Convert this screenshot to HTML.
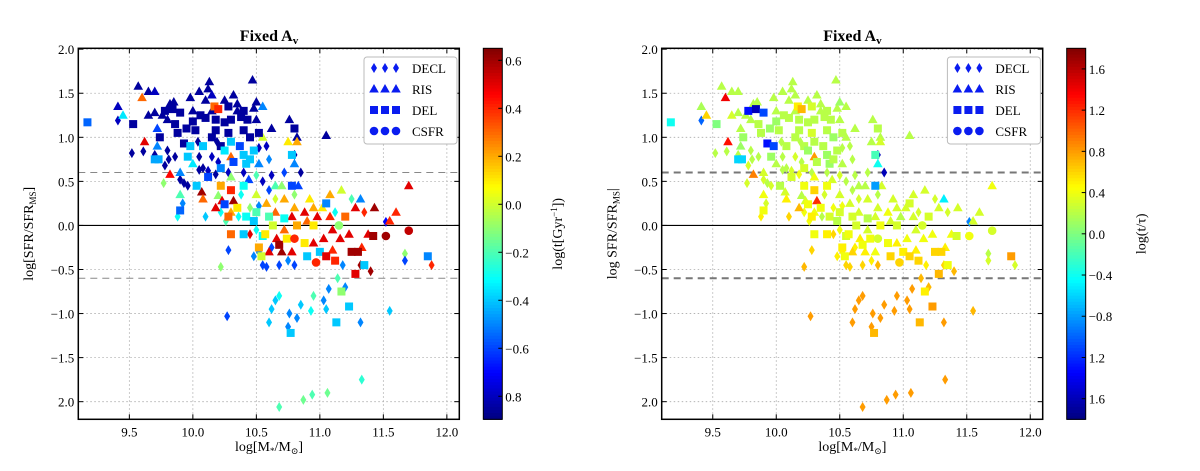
<!DOCTYPE html>
<html><head><meta charset="utf-8"><style>
body{margin:0;background:#fff;width:1200px;height:466px;overflow:hidden}
svg text{font-family:"Liberation Serif","DejaVu Serif",serif;fill:#000}
</style></head><body>
<svg id="fig" width="1200" height="466" viewBox="0 0 1200 466" xmlns="http://www.w3.org/2000/svg"></svg>
<script>
const xTicks=[9.5,10.0,10.5,11.0,11.5,12.0];
const xTickLabels=["9.5","10.0","10.5","11.0","11.5","12.0"];
const yTicks=[2.0,1.5,1.0,0.5,0.0,-0.5,-1.0,-1.5,-2.0];
const yTickLabels=["2.0","1.5","1.0","0.5","0.0","\u22120.5","\u22121.0","\u22121.5","2.0"];
const cb1Ticks=[0.6,0.4,0.2,0.0,-0.2,-0.4,-0.6,-0.8];
const cb1Labels=["0.6","0.4","0.2","0.0","\u22120.2","\u22120.4","\u22120.6","0.8"];
const cb2Ticks=[1.6,1.2,0.8,0.4,0.0,-0.4,-0.8,-1.2,-1.6];
const cb2Labels=["1.6","1.2","0.8","0.4","0.0","\u22120.4","\u22120.8","1.2","1.6"];
const legendLabels=["DECL","RIS","DEL","CSFR"];
const legendMarkers=["d","t","s","o"];
// each row: [log M*, log SFR/SFR_MS, log t (left colour), log t/tau (right colour)]
const declPoints=[[9.41,1.19,-0.8,-1.0],[9.52,0.82,-0.85,0.2],[9.61,0.84,-0.85,0.2],[9.77,0.48,-0.1,0.3],[9.8,0.85,-0.85,0.2],[9.81,0.75,-0.85,0.2],[9.78,0.68,-0.85,0.3],[9.86,0.78,-0.85,0.2],[9.9,0.52,-0.85,0.3],[9.93,0.48,-0.85,0.2],[9.96,0.45,-0.85,0.3],[9.92,0.25,-0.5,0.3],[9.88,0.1,-0.3,0.5],[10.04,0.95,-0.85,0.2],[10.05,0.63,-0.85,0.2],[10.08,0.65,-0.85,0.2],[10.12,0.62,-0.8,0.3],[10.1,0.1,-0.4,0.6],[10.19,0.95,-0.85,0.2],[10.15,0.78,-0.8,0.3],[10.2,0.72,-0.8,0.2],[10.18,0.58,-0.85,0.4],[10.22,0.15,-0.3,0.4],[10.26,0.05,-0.2,0.4],[10.28,0.6,-0.8,0.2],[10.36,0.1,-0.3,0.2],[10.28,-0.28,-0.6,0.6],[10.27,-1.03,-0.6,0.8],[10.22,-0.47,-0.1,0.7],[10.4,0.6,-0.8,0.2],[10.38,0.35,-0.3,0.3],[10.45,0.2,-0.1,0.4],[10.45,-0.1,0.5,0.6],[10.52,0.88,-0.8,0.2],[10.5,0.57,-0.2,0.3],[10.55,0.5,-0.8,0.2],[10.52,0.22,-0.5,0.4],[10.5,-0.05,-0.3,0.4],[10.52,-0.3,-0.5,0.5],[10.48,-0.35,-0.5,0.5],[10.55,-0.45,-0.6,0.6],[10.58,-0.47,-0.6,0.6],[10.6,0.4,-0.6,0.2],[10.62,0.57,-0.8,0.2],[10.58,0.9,-0.8,0.2],[10.6,0.75,-0.5,0.2],[10.65,0.3,0.0,0.3],[10.68,-0.45,-0.6,0.6],[10.65,-0.85,-0.4,0.8],[10.68,-0.8,-0.3,0.8],[10.62,-0.95,-0.4,0.8],[10.6,-1.1,-0.4,0.8],[10.72,0.6,-0.6,0.2],[10.75,-0.4,-0.5,0.5],[10.8,0.8,-0.85,-1.6],[10.85,0.6,-0.85,-1.6],[10.8,0.35,-0.1,0.2],[10.8,-0.45,-0.6,0.7],[10.76,-1.0,-0.5,0.8],[10.75,-1.15,-0.5,0.8],[10.82,-1.05,-0.5,0.8],[10.85,-0.9,-0.4,0.8],[10.95,-0.8,-0.2,0.8],[10.93,-0.97,-0.3,0.8],[11.03,-0.85,-0.5,0.8],[11.05,-0.95,-0.4,0.8],[11.07,-0.72,-0.5,0.8],[11.14,-0.6,-0.2,0.7],[11.12,0.15,-0.3,0.3],[11.18,-0.45,-0.5,0.5],[11.2,-0.7,-0.5,0.7],[11.25,0.3,-0.2,0.3],[11.32,-0.45,0.6,0.6],[11.32,-1.1,-0.5,0.8],[11.33,-1.75,-0.25,0.8],[11.35,0.15,0.4,0.3],[11.4,-0.52,0.6,0.7],[11.52,0.04,-0.7,-0.9],[11.55,-0.97,-0.4,0.7],[11.67,-0.32,-0.1,0.2],[11.67,-0.4,-0.6,0.3],[11.88,-0.45,0.4,0.3],[10.05,0.78,-0.85,0.2],[10.62,-0.25,-0.6,0.5],[9.7,0.8,-0.85,0.2],[10.68,-2.06,-0.2,0.8],[10.87,-1.98,-0.15,0.8],[10.94,-1.92,-0.2,0.8],[11.06,-1.9,-0.15,0.8]];
const risPoints=[[9.41,1.35,-0.8,0.15],[9.45,1.25,-0.35,0.6],[9.57,1.58,-0.85,0.2],[9.6,1.45,0.3,1.4],[9.65,1.52,-0.85,0.2],[9.7,1.52,-0.8,0.2],[9.62,0.95,0.5,1.3],[9.65,1.25,-0.85,0.3],[9.7,1.28,-0.85,0.2],[9.72,1.1,-0.6,0.2],[9.72,0.9,-0.5,0.1],[9.76,1.25,-0.85,0.2],[9.8,1.2,-0.85,0.2],[9.82,1.38,-0.85,0.2],[9.85,1.4,-0.85,0.2],[9.82,0.58,0.45,0.9],[9.9,0.6,-0.5,0.3],[9.9,0.35,-0.2,0.4],[9.98,1.45,-0.85,0.2],[10.0,1.3,-0.85,0.2],[10.0,0.7,-0.35,0.2],[10.07,0.38,0.6,0.3],[10.08,0.3,0.3,0.5],[10.05,1.52,-0.85,0.2],[10.1,1.42,-0.85,0.2],[10.12,1.55,-0.85,0.2],[10.13,1.63,-0.85,0.2],[10.15,1.48,-0.8,0.2],[10.15,1.3,-0.85,0.2],[10.2,0.34,-0.1,0.2],[10.23,0.28,0.5,0.3],[10.18,0.2,0.5,0.7],[10.25,1.42,-0.85,0.2],[10.3,0.78,0.3,0.8],[10.3,0.55,-0.1,0.4],[10.32,0.28,0.6,1.2],[10.3,0.15,0.2,0.4],[10.35,1.38,-0.85,0.2],[10.44,0.52,-0.6,0.3],[10.47,1.65,-0.85,0.2],[10.48,1.33,-0.85,0.2],[10.5,1.4,-0.85,0.1],[10.5,1.2,-0.85,0.2],[10.55,1.35,-0.5,0.2],[10.55,1.0,0.0,0.2],[10.52,0.7,-0.5,0.2],[10.5,0.35,0.0,0.3],[10.6,-0.3,0.5,0.6],[10.58,0.25,0.2,0.3],[10.62,1.1,-0.85,0.2],[10.65,0.45,-0.2,0.2],[10.65,0.15,0.3,0.3],[10.66,-0.15,0.5,0.5],[10.7,-0.3,0.6,0.5],[10.7,0.45,-0.1,0.2],[10.72,0.3,0.2,0.3],[10.72,-0.05,0.3,0.3],[10.8,0.7,-0.5,-0.4],[10.75,0.95,0.1,0.2],[10.76,1.2,-0.85,0.2],[10.82,1.0,-0.85,0.2],[10.82,0.95,0.2,0.3],[10.83,0.45,-0.6,0.3],[10.8,0.2,0.2,0.3],[10.78,0.1,0.5,0.3],[10.78,-0.3,0.5,0.4],[10.88,0.15,0.5,0.4],[10.9,0.05,0.3,0.3],[10.92,0.3,0.1,0.3],[10.95,0.2,0.2,0.3],[10.95,-0.2,0.5,0.5],[10.98,0.1,0.5,0.2],[11.02,0.2,0.1,0.3],[11.03,-0.15,0.5,0.4],[11.08,0.35,0.2,0.3],[11.08,0.1,0.4,0.3],[11.1,-0.05,0.5,0.3],[11.1,-0.28,0.4,0.5],[11.17,0.4,0.0,0.3],[11.16,-0.15,0.5,0.4],[11.23,-0.1,0.5,0.4],[11.28,0.2,0.5,0.3],[11.32,0.3,-0.5,-0.5],[11.33,-0.25,0.4,0.5],[11.38,-0.1,0.5,0.4],[11.43,0.2,0.6,0.3],[11.55,0.05,0.4,0.3],[11.6,0.15,0.4,0.3],[11.7,0.45,0.5,0.4],[10.35,1.3,-0.85,0.2],[10.32,1.48,-0.85,0.2],[11.05,1.02,-0.85,0.2]];
const delPoints=[[9.17,1.17,-0.55,-0.4],[9.53,1.15,-0.85,0.0],[9.74,1.0,-0.85,0.1],[9.7,0.75,-0.45,-0.6],[9.73,0.75,-0.45,-0.6],[9.78,1.3,-0.85,-1.3],[9.84,1.32,-0.85,-1.6],[9.86,1.15,-0.85,0.2],[9.9,1.28,-0.85,-1.1],[9.88,1.05,-0.85,0.2],[9.95,1.1,-0.85,0.1],[9.93,0.93,-0.85,-1.3],[9.9,0.17,-0.55,0.4],[10.0,1.18,-0.85,0.1],[10.02,1.08,-0.85,0.2],[9.98,0.9,-0.4,-1.1],[10.08,0.9,-0.4,0.2],[9.96,0.78,-0.4,0.1],[10.03,0.45,-0.4,0.2],[10.1,1.22,-0.85,0.2],[10.17,1.35,0.3,0.5],[10.18,1.2,-0.85,0.2],[10.2,1.32,0.4,0.7],[10.18,1.08,-0.85,0.2],[10.15,1.0,-0.85,0.2],[10.22,0.9,-0.85,0.2],[10.12,0.55,-0.6,0.3],[10.22,0.45,0.2,0.4],[10.25,0.24,-0.6,0.4],[10.28,1.35,-0.85,0.3],[10.25,1.17,-0.85,0.2],[10.3,1.2,-0.85,0.2],[10.28,1.05,-0.85,0.3],[10.3,0.95,-0.4,0.2],[10.25,0.85,-0.35,0.1],[10.32,0.72,-0.6,0.2],[10.3,0.4,0.4,0.6],[10.35,0.2,0.1,0.4],[10.28,0.1,0.3,0.5],[10.3,-0.1,0.3,0.4],[10.38,1.23,-0.85,0.2],[10.4,1.08,-0.85,0.2],[10.37,0.9,-0.6,0.2],[10.4,0.8,-0.4,0.1],[10.42,0.7,-0.4,0.1],[10.4,0.45,-0.3,0.4],[10.42,0.1,-0.3,0.3],[10.4,-0.1,-0.4,0.5],[10.43,1.2,-0.85,0.2],[10.45,1.0,-0.85,0.1],[10.52,1.05,-0.85,0.2],[10.48,0.85,-0.4,0.2],[10.5,0.15,-0.2,0.3],[10.48,0.05,-0.4,0.2],[10.55,-0.12,-0.3,0.3],[10.52,-0.25,0.2,0.5],[10.54,-0.35,0.0,0.4],[10.57,-0.1,0.1,0.4],[10.6,0.1,-0.2,0.3],[10.63,0.0,0.0,0.3],[10.68,-0.22,0.6,0.4],[10.72,0.08,-0.3,0.2],[10.74,-0.15,0.1,0.4],[10.78,0.45,-0.6,-0.8],[10.78,0.8,-0.4,-0.2],[10.8,1.1,-0.85,0.2],[10.82,0.0,0.2,0.4],[10.77,-1.22,-0.4,0.7],[10.88,-0.2,0.1,0.4],[10.9,-0.35,-0.4,0.6],[10.95,0.0,0.1,0.3],[11.0,-0.3,-0.4,0.5],[11.05,-0.35,0.5,0.6],[11.05,0.25,-0.5,0.3],[11.12,-0.4,0.4,0.6],[11.13,-1.1,-0.4,0.7],[11.2,0.1,0.3,0.3],[11.17,-0.75,-0.1,0.5],[11.23,-0.92,-0.4,0.8],[11.25,-0.3,0.6,0.6],[11.3,-0.3,0.6,0.6],[11.28,-0.55,0.5,0.7],[11.35,-0.45,-0.4,0.4],[11.42,-0.12,0.6,0.3],[11.85,-0.35,-0.5,0.8],[10.4,1.3,-0.85,0.2],[10.06,1.25,-0.85,0.2],[10.22,0.65,-0.5,0.3],[10.45,0.75,-0.4,0.2]];
const csfrPoints=[[10.8,-0.15,0.4,0.3],[10.97,-0.42,0.4,0.6],[11.15,0.0,-0.1,0.3],[11.52,-0.12,0.6,0.4],[11.7,-0.06,0.55,0.3]];

const NS="http://www.w3.org/2000/svg";
const svg=document.getElementById('fig');
function mk(tag,attrs,parent){const e=document.createElementNS(NS,tag);for(const k in attrs)e.setAttribute(k,attrs[k]);(parent||svg).appendChild(e);return e;}
function jet(t){t=Math.max(0,Math.min(1,t));const c=v=>Math.round(255*Math.max(0,Math.min(1,1.5-Math.abs(v))));return `rgb(${c(4*t-3)},${c(4*t-2)},${c(4*t-1)})`;}
const X0=78.3,X1=459.3,Y0=48.3,Y1=419.3,XMIN=9.098,XMAX=12.098,YMIN=-2.2,YMAX=2.01;
function marker(g,m,px,py,col){
  let e;
  if(m==="d") e=mk('polygon',{points:`${px},${py-5} ${px+3},${py} ${px},${py+5} ${px-3},${py}`,fill:col},g);
  else if(m==="t") e=mk('polygon',{points:`${px},${py-5} ${px+4.8},${py+3.5} ${px-4.8},${py+3.5}`,fill:col},g);
  else if(m==="s") e=mk('rect',{x:px-4,y:py-4,width:8,height:8,fill:col},g);
  else e=mk('circle',{cx:px,cy:py,r:4.3,fill:col},g);
  return e;
}
const series=[["d",declPoints],["t",risPoints],["s",delPoints],["o",csfrPoints]];
function panel(off,ci,cmin,cmax,cbTicks,cbLabels,cbTitle,ylab,dashW,dashCol,id){
  const sx=v=>off+X0+(v-XMIN)/(XMAX-XMIN)*(X1-X0);
  const sy=v=>Y1-(v-YMIN)/(YMAX-YMIN)*(Y1-Y0);
  const g=mk('g',{});
  
  
  const t=mk('text',{x:off+269,y:41,'text-anchor':'middle','font-size':16,'font-weight':'bold'},g);
  t.textContent='Fixed A';const ts=mk('tspan',{'font-size':11,dy:3},t);ts.textContent='v';
  
  
  xTicks.forEach((v,i)=>{
    const l=mk('line',{x1:sx(v),x2:sx(v),y1:Y0,y2:Y1,stroke:'#aaa','stroke-dasharray':'1.5,2.5','stroke-width':0.8},g);
    
    
    mk('line',{x1:sx(v),x2:sx(v),y1:Y1,y2:Y1-5,stroke:'#000'},g);
    mk('line',{x1:sx(v),x2:sx(v),y1:Y0,y2:Y0+5,stroke:'#000'},g);
    const tx=mk('text',{x:sx(v),y:Y1+17,'text-anchor':'middle','font-size':13},g);tx.textContent=xTickLabels[i];
    
    
  });
  yTicks.forEach((v,i)=>{
    const l=mk('line',{x1:off+X0,x2:off+X1,y1:sy(v),y2:sy(v),stroke:'#aaa','stroke-dasharray':'1.5,2.5','stroke-width':0.8},g);
    
    
    mk('line',{x1:off+X0,x2:off+X0+5,y1:sy(v),y2:sy(v),stroke:'#000'},g);
    mk('line',{x1:off+X1,x2:off+X1-5,y1:sy(v),y2:sy(v),stroke:'#000'},g);
    const tx=mk('text',{x:off+X0-4,y:sy(v)+5,'text-anchor':'end','font-size':13},g);tx.textContent=yTickLabels[i];
    
    
  });
  [0.6,-0.6].forEach(v=>{const l=mk('line',{x1:off+X0,x2:off+X1,y1:sy(v),y2:sy(v),stroke:dashCol,'stroke-width':dashW,'stroke-dasharray':'7,5'},g);
    
    });
  const z=mk('line',{x1:off+X0,x2:off+X1,y1:sy(0),y2:sy(0),stroke:'#000','stroke-width':1.2},g);
  
  
  const pg=mk('g',{},g);
  
  
  series.forEach(([m,pts])=>{
    pts.forEach(p=>{
      const col=jet((p[ci]-cmin)/(cmax-cmin));
      const e=marker(pg,m,sx(p[0]),sy(p[1]),col);
      
      
    });
  });
  const fr=mk('rect',{x:off+X0,y:Y0,width:X1-X0,height:Y1-Y0,fill:'none',stroke:'#000','stroke-width':1.5},g);
  
  
  const lg=mk('g',{},g);
  
  
  mk('rect',{x:off+364,y:57,width:93,height:87,rx:3,fill:'#fff',stroke:'#bbb','stroke-width':1},lg);
  legendLabels.forEach((lab,i)=>{
    const y=68+i*21;
    const eg=mk('g',{},lg);
    
    
    [374,385,396].forEach(xx=>marker(eg,legendMarkers[i],off+xx,y,'#0a1cf0'));
    const tx=mk('text',{x:off+412,y:y+5,'font-size':13},eg);tx.textContent=lab;
  });
  const xl=mk('text',{x:off+269,y:451,'text-anchor':'middle','font-size':14},g);
  xl.innerHTML='log[M<tspan font-size="9" dy="3">*</tspan><tspan dy="-3">/M</tspan><tspan font-size="9" dy="3">\u2299</tspan><tspan dy="-3">]</tspan>';
  
  
  const yl=mk('text',{x:0,y:0,'text-anchor':'middle','font-size':14,transform:`translate(${off+33},${(Y0+Y1)/2}) rotate(-90)`},g);
  yl.innerHTML=ylab;
  
  
  const cb=mk('g',{},g);
  
  
  const cx0=off+483.3,cw=19,n=120;
  for(let k=0;k<n;k++){const y=Y0+k*(Y1-Y0)/n;mk('rect',{x:cx0,y:y,width:cw,height:(Y1-Y0)/n+0.6,fill:jet(1-(k+0.5)/n)},cb);}
  mk('rect',{x:cx0,y:Y0,width:cw,height:Y1-Y0,fill:'none',stroke:'#000','stroke-width':1},cb);
  const cy=v=>Y1-(v-cmin)/(cmax-cmin)*(Y1-Y0);
  cbTicks.forEach((v,i)=>{mk('line',{x1:cx0+cw-4,x2:cx0+cw,y1:cy(v),y2:cy(v),stroke:'#000'},cb);
    const tx=mk('text',{x:cx0+cw+3,y:cy(v)+5,'font-size':13},cb);tx.textContent=cbLabels[i];
    
    });
  const ct=mk('text',{x:0,y:0,'text-anchor':'middle','font-size':14,transform:`translate(${off+562},${(Y0+Y1)/2}) rotate(-90)`},cb);
  ct.innerHTML=cbTitle;
  
  
}
panel(0,2,-0.896,0.65,cb1Ticks,cb1Labels,'log(t[Gyr<tspan font-size="9" dy="-5">\u22121</tspan><tspan dy="5">])</tspan>','log[SFR/SFR<tspan font-size="9" dy="3">MS</tspan><tspan dy="-3">]</tspan>',1,'#888','left');
panel(583.4,3,-1.8,1.8,cb2Ticks,cb2Labels,'log(t/\u03C4)','log SFR/SFR<tspan font-size="9" dy="3">MS</tspan><tspan dy="-3">|</tspan>',2,'#777','right');
</script>
</body></html>
